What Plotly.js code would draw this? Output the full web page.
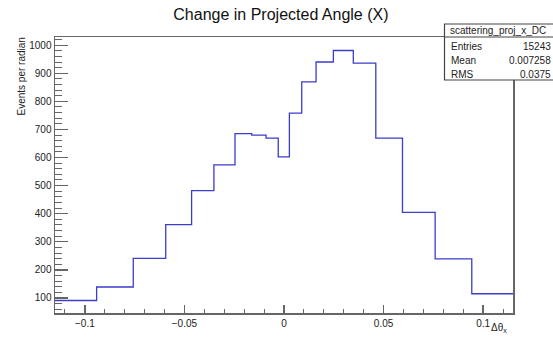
<!DOCTYPE html>
<html><head><meta charset="utf-8">
<script src="https://cdn.plot.ly/plotly-3.0.1.min.js"></script>
<style>body{margin:0;padding:0;background:#fff}#c{width:553px;height:337px}</style>
</head><body><div id="c"></div>
<script>
// Bin edges (radians) and per-bin content (events per radian)
const binEdges = [-0.115, -0.0941, -0.0757, -0.0594, -0.0464, -0.0352, -0.0246, -0.0162, -0.0090, -0.0029,
                  0.0027, 0.0089, 0.0161, 0.0248, 0.0348, 0.0461, 0.0595, 0.0759, 0.0943, 0.115];
const binValues = [91, 139, 241, 361, 482, 574, 685, 680, 669, 602,
                   758, 869, 940, 981, 936, 669, 405, 239, 115];
const statLabels = ["Entries", "Mean", "RMS"];
const statValues = ["15243", "0.007258", "0.0375"];
const histName = "scattering_proj_x_DC";

const W = 553, H = 337, L = 55, R = 40, T = 37, B = 24;
const pw = W - L - R, ph = H - T - B;
const px = v => (v - L) / pw;
const py = v => (H - B - v) / ph;

const yStep = binValues.concat([binValues[binValues.length - 1]]);
const trace = {
  x: binEdges, y: yStep, type: 'scatter', mode: 'lines',
  line: {shape: 'hv', color: 'rgb(60,60,205)', width: 1.3},
  hoverinfo: 'skip', showlegend: false
};

const font = {family: 'Liberation Sans, Arial, sans-serif', size: 10, color: '#222'};
const axisCommon = {
  showgrid: false, zeroline: false, showline: true, mirror: true,
  linecolor: '#666', linewidth: 1.5, ticks: 'inside', tickcolor: '#666',
  tickwidth: 1.3, tickfont: font
};

const annotations = [
  {xref: 'paper', yref: 'paper', x: px(20.5), y: py(36), text: 'Events per radian', textangle: -90,
   showarrow: false, xanchor: 'center', yanchor: 'top', font: font},
  {xref: 'paper', yref: 'paper', x: px(509), y: py(336), text: 'Δθ<sub>x</sub>',
   showarrow: false, xanchor: 'right', yanchor: 'bottom', font: font},
  {xref: 'paper', yref: 'paper', x: px(448), y: py(30.5), text: histName,
   showarrow: false, xanchor: 'left', yanchor: 'middle', font: font}
];
const rowY = [46, 60, 74];
statLabels.forEach((s, i) => {
  annotations.push({xref: 'paper', yref: 'paper', x: px(449), y: py(rowY[i]), text: s,
    showarrow: false, xanchor: 'left', yanchor: 'middle', font: font});
  annotations.push({xref: 'paper', yref: 'paper', x: px(552.5), y: py(rowY[i]), text: statValues[i],
    showarrow: false, xanchor: 'right', yanchor: 'middle', font: font});
});

const layout = {
  width: W, height: H,
  margin: {l: L, r: R, t: T, b: B, pad: 0},
  paper_bgcolor: '#fff', plot_bgcolor: '#fff',
  title: {text: 'Change in Projected Angle (X)', xref: 'container', yref: 'container',
          x: 0.508, y: 1 - 14 / H, xanchor: 'center', yanchor: 'middle',
          font: {family: 'Liberation Sans, Arial, sans-serif', size: 16, color: '#111'}},
  xaxis: Object.assign({}, axisCommon, {
    range: [-0.115, 0.115], tickvals: [-0.1, -0.05, 0, 0.05, 0.1],
    ticktext: ['−0.1', '−0.05', '0', '0.05', '0.1'],
    ticklen: 8,
    minor: {dtick: 0.01, tick0: 0, ticks: 'inside', ticklen: 4, tickcolor: '#666', tickwidth: 1, showgrid: false}
  }),
  yaxis: Object.assign({}, axisCommon, {
    range: [46.5, 1029], dtick: 100, tick0: 0, ticklen: 13,
    minor: {dtick: 20, tick0: 0, ticks: 'inside', ticklen: 7, tickcolor: '#666', tickwidth: 1, showgrid: false}
  }),
  shapes: [
    {type: 'rect', xref: 'paper', yref: 'paper', x0: px(444.5), x1: px(560), y0: py(80), y1: py(24),
     line: {color: '#444', width: 1.2}, fillcolor: '#fff', layer: 'above'},
    {type: 'line', xref: 'paper', yref: 'paper', x0: px(444.5), x1: px(560), y0: py(37), y1: py(37),
     line: {color: '#444', width: 1.2}, layer: 'above'}
  ],
  annotations: annotations
};

Plotly.newPlot('c', [trace], layout, {staticPlot: true, displayModeBar: false});
</script></body></html>
